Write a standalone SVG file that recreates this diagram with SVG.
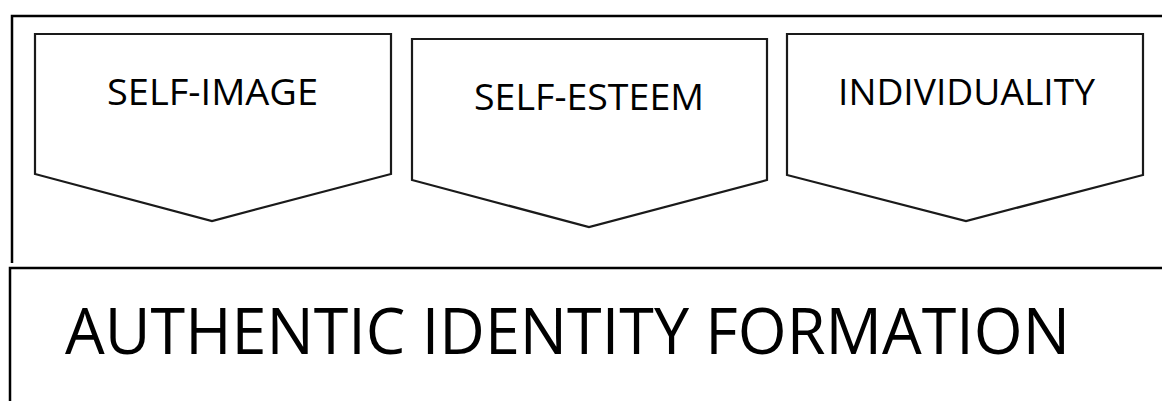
<svg xmlns="http://www.w3.org/2000/svg" width="1162" height="401" viewBox="0 0 1162 401">
<style>
.frame{fill:none;stroke:#000;stroke-width:2.5}
.chev{fill:#fff;stroke:#1a1a1a;stroke-width:2.2;stroke-linejoin:miter}
.lbl{font-family:"Open Sans","Noto Sans",sans-serif;font-size:36px;fill:#000;text-anchor:middle}
.big{font-family:"Open Sans","Noto Sans",sans-serif;font-size:64px;fill:#000;text-anchor:middle}
</style>
<rect width="1162" height="401" fill="#fff"/>
<g id="top-frame">
<path class="frame" d="M12,263 V16 H1163"/>
</g>
<g id="self-image">
<polygon class="chev" points="35,34 391,34 391,174 212,221 35,174"/>
<text class="lbl" x="212.5" y="105" textLength="211" lengthAdjust="spacingAndGlyphs">SELF-IMAGE</text>
</g>
<g id="self-esteem">
<polygon class="chev" points="412,39 767,39 767,180 589,227 412,180"/>
<text class="lbl" x="589" y="110" textLength="230" lengthAdjust="spacingAndGlyphs">SELF-ESTEEM</text>
</g>
<g id="individuality">
<polygon class="chev" points="787,34 1143,34 1143,175 966,221 787,175"/>
<text class="lbl" x="966.5" y="105" textLength="257" lengthAdjust="spacingAndGlyphs">INDIVIDUALITY</text>
</g>
<g id="connectors"></g>
<g id="authentic-identity-formation">
<path class="frame" d="M10,402 V268 H1163"/>
<text class="big" x="567.5" y="354" textLength="1005" lengthAdjust="spacingAndGlyphs">AUTHENTIC IDENTITY FORMATION</text>
</g>
</svg>
